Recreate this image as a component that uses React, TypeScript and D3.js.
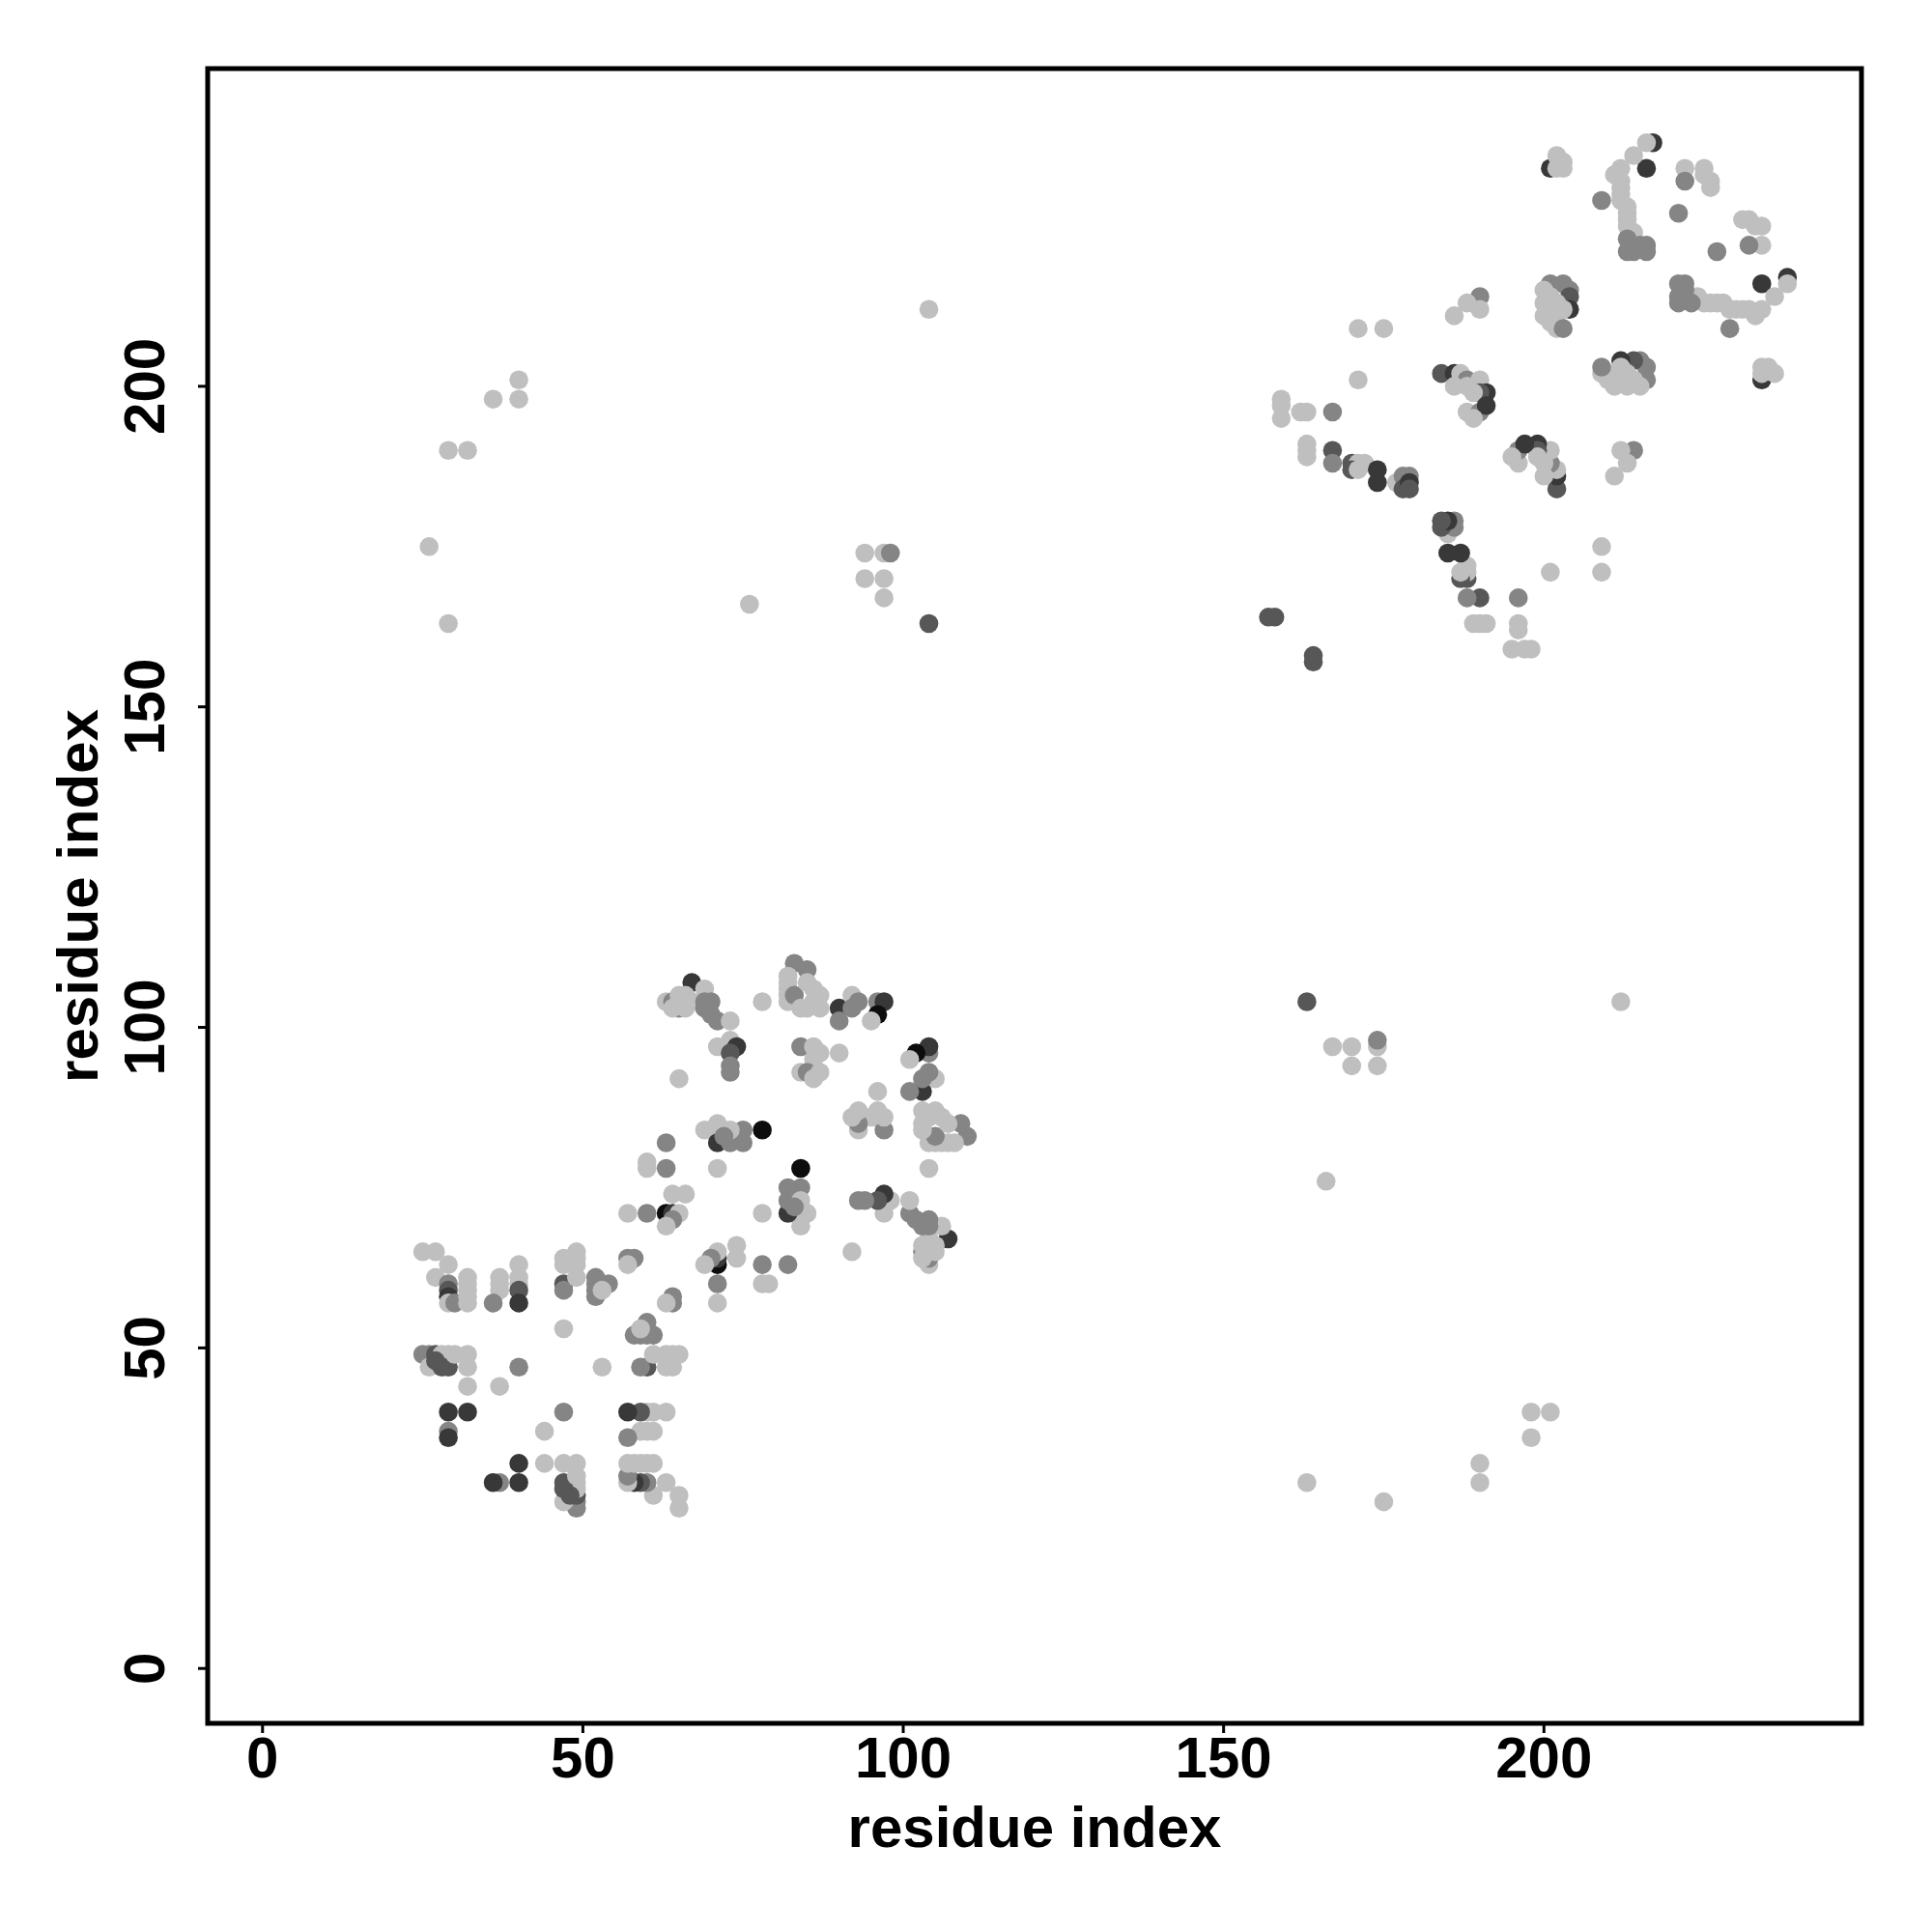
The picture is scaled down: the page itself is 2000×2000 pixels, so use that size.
import React from "react";
import * as d3 from "d3";

// contacts [i, j, level] with i < j; a contact map shows each pair at (i,j) and (j,i)
// level: 1 light ... 5 black
const lowerCluster: [number, number, number][] = [
  [25,65,1],[27,65,1],[29,63,1],[27,61,1],[29,60,2],[29,59,3],[29,58,4],[29,57,1],[30,57,2],
  [32,61,1],[32,60,1],[32,59,1],[32,58,1],[32,57,1],
  [37,61,1],[37,60,1],[37,59,1],[36,57,2],
  [40,63,1],[40,61,1],[40,60,1],[40,59,3],[40,57,4],
  [47,64,1],[49,65,1],[47,63,1],[47,60,3],[47,59,2],[49,61,1],[49,63,1],[49,64,1],
  [52,61,2],[52,60,2],[52,59,2],[52,58,2],[54,60,2],[53,59,1],
  [57,64,2],[58,64,2],[57,63,1],[47,53,1],
  [25,49,2],[26,49,2],[27,49,3],[28,49,1],[29,49,1],[26,47,1],[27,48,3],[28,47,3],[29,47,3],[30,49,1],
  [32,49,1],[32,47,1],[40,47,2],[32,44,1],[37,44,1],
  [29,40,4],[32,40,4],[29,37,2],[29,36,4],
  [63,104,1],[64,104,2],[65,103,2],[65,105,1],[64,103,1],
  [65,92,1],[63,82,2],[60,79,1],[60,78,1],[63,78,2],[64,74,1],[66,74,1],
  [57,71,1],[60,71,2],[63,71,5],[64,71,4],[65,71,1],[64,70,2],[63,69,1],
  [67,107,4],[69,106,1],[66,105,1],[67,104,1],[66,103,1],[69,104,2],[70,104,2],[69,103,2],[70,102,2],[71,101,2],
  [73,101,1],[71,97,1],[73,98,1],[74,97,4],[73,96,3],[73,94,2],[73,93,2],
  [78,104,1],[83,110,2],[85,109,2],[82,108,1],[82,107,1],[82,106,1],[82,105,1],[82,104,1],[83,105,2],
  [85,107,1],[86,106,1],[87,105,1],[86,104,1],[85,103,1],[84,103,1],[87,103,1],
  [90,103,4],[90,101,2],[92,105,1],[93,104,2],[92,103,2],[96,104,2],[97,104,4],[96,102,5],[95,101,1],
  [84,97,2],[86,97,1],[86,95,1],[87,96,1],[84,93,1],[85,93,2],[86,92,1],[87,93,1],[90,96,1],
  [69,84,1],[70,84,1],[71,85,1],[72,84,1],[75,84,2],[71,82,4],[73,82,2],[75,82,2],[73,84,1],[72,83,2],
  [78,84,5],[71,78,1],
];

const upperCluster: [number, number, number][] = [
  [190,214,2],[188,213,1],[190,212,1],[186,211,1],[171,209,1],[175,209,1],[171,201,1],[159,198,1],
  [184,202,3],[186,202,4],[187,202,1],[188,201,2],[190,201,1],[191,199,4],[190,199,3],[186,200,1],[188,200,1],[189,199,1],
  [188,196,1],[190,196,2],[191,197,4],[189,195,1],
  [159,197,1],[159,195,1],[162,196,1],[163,196,1],[167,196,2],[163,191,1],[163,189,1],[163,190,1],[167,190,3],[167,188,2],
  [170,188,3],[171,188,1],[172,188,1],[170,187,3],[171,187,1],[174,187,4],[174,185,4],
  [177,185,1],[178,186,2],[179,186,2],[178,184,3],[179,185,4],[179,184,3],
  [157,164,3],[158,164,3],
  [201,234,4],[202,236,1],[203,235,1],[203,234,1],[202,234,1],
  [217,238,4],[216,238,1],[216,234,4],
  [214,236,1],[212,234,1],[211,233,1],[212,232,1],[212,231,1],[212,230,1],[212,229,1],[213,228,1],[213,227,1],[213,226,1],[213,225,1],[214,224,1],[209,229,2],
  [213,221,2],[215,222,2],[216,222,2],[214,221,2],[213,223,2],[216,221,2],
  [222,234,1],[222,232,2],[225,234,1],[225,233,1],[226,232,1],[226,231,1],[221,227,2],
  [201,216,2],[203,216,2],[204,215,2],[204,214,3],[204,212,4],[200,215,1],[201,214,1],[200,213,1],[201,212,1],[202,211,1],[201,210,1],[202,209,1],[203,209,2],[202,213,1],[203,212,1],[200,211,1],
];

const sparseContacts: [number, number, number][] = [
  [26,175,1],[29,163,1],[29,190,1],[32,190,1],[36,198,1],[40,201,1],[40,198,1],[104,212,1],
  [94,174,1],[97,174,1],[98,174,2],[94,170,1],[97,170,1],[97,167,1],[76,166,1],[104,163,3],
];

const tickValues = [0, 50, 100, 150, 200];
const levelColors = ["#bfbfbf", "#858585", "#575757", "#383838", "#0d0d0d"];
const axisLabel = "residue index";

export default function App() {
  const left = 215, right = 1927, top = 71, bottom = 1784;
  const dom: [number, number] = [-8.56, 249.56];
  const x = d3.scaleLinear().domain(dom).range([left, right]);
  const y = d3.scaleLinear().domain(dom).range([bottom, top]);
  const font = "'Liberation Sans', Arial, Helvetica, sans-serif";
  const all = [...lowerCluster, ...sparseContacts, ...upperCluster];
  const pts: { cx: number; cy: number; c: string; k: string }[] = [];
  all.forEach(([i, j, l], n) => {
    pts.push({ cx: x(i), cy: y(j), c: levelColors[l - 1], k: `a${n}` });
    pts.push({ cx: x(j), cy: y(i), c: levelColors[l - 1], k: `b${n}` });
  });
  return (
    <div style={{ position: "absolute", left: 0, top: 0 }}>
      <svg width={2000} height={2000} style={{ display: "block", background: "#fff" }}>
        <rect x={0} y={0} width={2000} height={2000} fill="#fff" />
        <g>
          {pts.map((p) => (
            <circle key={p.k} cx={p.cx} cy={p.cy} r={9.8} fill={p.c} />
          ))}
        </g>
        <rect x={left} y={top} width={right - left} height={bottom - top} fill="none" stroke="#000" strokeWidth={5} />
        {tickValues.map((t) => (
          <g key={`x${t}`}>
            <line x1={x(t)} x2={x(t)} y1={bottom} y2={bottom + 10} stroke="#000" strokeWidth={3} />
            <text x={x(t)} y={1840} textAnchor="middle" fontFamily={font} fontWeight="bold" fontSize={60}>{t}</text>
          </g>
        ))}
        {tickValues.map((t) => (
          <g key={`y${t}`}>
            <line x1={left} x2={left - 10} y1={y(t)} y2={y(t)} stroke="#000" strokeWidth={3} />
            <text transform={`translate(170,${y(t)}) rotate(-90)`} textAnchor="middle" fontFamily={font} fontWeight="bold" fontSize={60}>{t}</text>
          </g>
        ))}
        <text x={(left + right) / 2} y={1912} textAnchor="middle" fontFamily={font} fontWeight="bold" fontSize={60}>{axisLabel}</text>
        <text transform={`translate(101,${(top + bottom) / 2}) rotate(-90)`} textAnchor="middle" fontFamily={font} fontWeight="bold" fontSize={60}>{axisLabel}</text>
      </svg>
    </div>
  );
}
